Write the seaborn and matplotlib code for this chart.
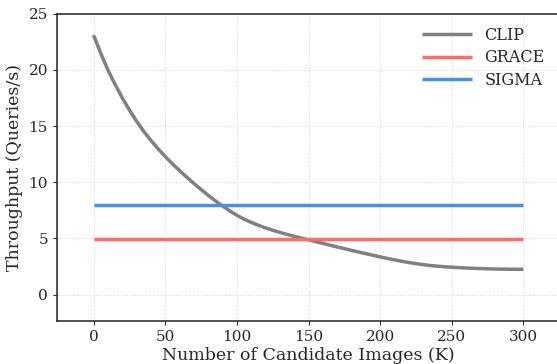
import pandas as pd
import matplotlib
matplotlib.use('Agg')
import matplotlib.pyplot as plt
import seaborn as sb

# values (CLIP read every 5K)
k_values = list(range(0, 301, 5))
clip = [23.1, 21.5, 20.0, 18.72, 17.53, 16.44, 15.44, 14.54, 13.73, 12.99,
        12.3, 11.65, 11.04, 10.46, 9.9, 9.36, 8.84, 8.35, 7.89, 7.46,
        7.06, 6.72, 6.43, 6.17, 5.94, 5.73, 5.54, 5.36, 5.19, 5.03,
        4.88, 4.72, 4.56, 4.4, 4.24, 4.09, 3.94, 3.79, 3.64, 3.5,
        3.36, 3.22, 3.09, 2.97, 2.86, 2.76, 2.67, 2.59, 2.53, 2.48,
        2.44, 2.4, 2.37, 2.34, 2.32, 2.3, 2.28, 2.27, 2.26, 2.25, 2.25]
grace_value = 4.93
sigma_value = 8.0
methods = ['CLIP', 'GRACE', 'SIGMA']
colors = ['#808080', '#FF6B6B', '#4A90E2']

df = pd.concat([
    pd.DataFrame({'K': k_values, 'thr': clip, 'method': 'CLIP'}),
    pd.DataFrame({'K': k_values, 'thr': [grace_value] * len(k_values), 'method': 'GRACE'}),
    pd.DataFrame({'K': k_values, 'thr': [sigma_value] * len(k_values), 'method': 'SIGMA'}),
])

sb.set_style('ticks')
plt.rcParams['font.family'] = ['DejaVu Serif']

fig = plt.figure(figsize=(5.57, 3.64), dpi=100)
ax = fig.add_axes([57 / 557, 43 / 364, 502 / 557, 307.2 / 364])
sb.lineplot(data=df, x='K', y='thr', hue='method', hue_order=methods,
            palette=dict(zip(methods, colors)), linewidth=2.5, ax=ax)
for line in ax.get_lines():
    line.set_solid_capstyle('butt')
    line.set_solid_joinstyle('round')
ax.set_xlim(-25.5, 324.8)
ax.set_ylim(-2.35, 25)
ax.set_xticks([0, 50, 100, 150, 200, 250, 300])
ax.set_yticks([0, 5, 10, 15, 20, 25])
ax.grid(True, linestyle=':', linewidth=0.7, color='#d5d5d5')
ax.set_xlabel('Number of Candidate Images (K)', fontsize=12.5, labelpad=2)
ax.set_ylabel('Throughput (Queries/s)', fontsize=12.5, labelpad=4)
ax.tick_params(labelsize=11, length=3)
ax.spines['right'].set_visible(False)
for s in ['left', 'bottom', 'top']:
    ax.spines[s].set_linewidth(1.1)
    ax.spines[s].set_color('#222222')
leg = ax.legend(frameon=False, fontsize=11.5, loc='upper right', handlelength=3.1,
                labelspacing=0.35, bbox_to_anchor=(1.0, 1.005))
fig.savefig('out.png', dpi=100)
